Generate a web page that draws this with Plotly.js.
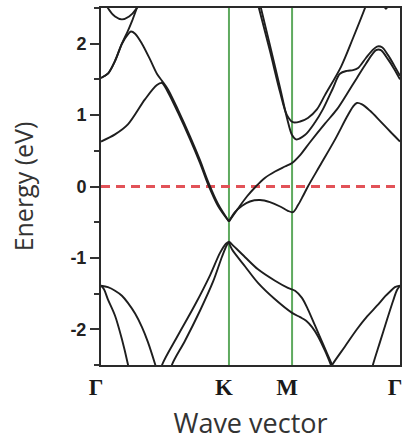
<!DOCTYPE html>
<html>
<head>
<meta charset="utf-8">
<script src="https://cdn.plot.ly/plotly-3.0.1.min.js"></script>
<style>html,body{margin:0;padding:0;background:#fff;}#chart{width:405px;height:445px;}</style>
</head>
<body>
<div id="chart"></div>
<script>
// High-symmetry points along the k-path (fraction of path length)
const kTicks = [0, 0.428, 0.639, 1];
const kLabels = ['Γ', 'K', 'M', 'Γ'];
const yTickVals = [-2, -1, 0, 1, 2];
const yTickText = ['-2', '-1', '0', '1', '2'];
const fermiLevel = 0;
const energyRange = [-2.5, 2.5];

// Conduction bands
const bandA_k = [0, 0.047, 0.090, 0.147, 0.187, 0.204, 0.224, 0.258, 0.298, 0.331, 0.358, 0.391, 0.428];
const bandA_E = [0.63, 0.73, 0.87, 1.22, 1.42, 1.45, 1.32, 1.03, 0.66, 0.33, 0.03, -0.27, -0.49];

const bandB1_k = [0, 0.023, 0.047, 0.070, 0.090, 0.100, 0.114, 0.137, 0.164, 0.187, 0.204, 0.224, 0.258, 0.298, 0.331, 0.358, 0.391, 0.428];
const bandB1_E = [1.52, 1.58, 1.76, 2.00, 2.13, 2.17, 2.14, 2.00, 1.78, 1.58, 1.48, 1.36, 1.07, 0.70, 0.37, 0.07, -0.24, -0.49];

const bandB2_k = [0, 0.023, 0.047, 0.070, 0.090, 0.104, 0.120, 0.134];
const bandB2_E = [1.52, 1.58, 1.76, 2.00, 2.18, 2.32, 2.50, 2.65];

const bandC_k = [0.007, 0.023, 0.047, 0.070, 0.094, 0.120, 0.134];
const bandC_E = [2.65, 2.50, 2.38, 2.34, 2.38, 2.50, 2.62];

const bandD1_k = [0.525, 0.565, 0.599, 0.622, 0.642, 0.666, 0.692, 0.722, 0.749, 0.803, 0.843, 0.883, 0.896];
const bandD1_E = [2.55, 1.90, 1.32, 1.00, 0.90, 0.91, 0.96, 1.08, 1.28, 1.68, 2.08, 2.50, 2.65];

const bandD2_k = [0.532, 0.565, 0.599, 0.622, 0.639, 0.652, 0.682, 0.716, 0.742, 0.776, 0.799, 0.823, 0.843, 0.860, 0.886, 0.906, 0.923, 0.940, 0.960, 0.980, 1.0];
const bandD2_E = [2.55, 1.98, 1.38, 0.96, 0.72, 0.66, 0.72, 0.90, 1.08, 1.38, 1.58, 1.62, 1.63, 1.66, 1.80, 1.90, 1.96, 1.95, 1.84, 1.70, 1.55];

const bandL4_k = [0.428, 0.458, 0.488, 0.518, 0.548, 0.582, 0.615, 0.639, 0.666, 0.699, 0.749, 0.789, 0.823, 0.856, 0.886, 0.920, 0.936, 0.960, 0.980, 1.0];
const bandL4_E = [-0.49, -0.31, -0.14, 0, 0.12, 0.21, 0.28, 0.33, 0.44, 0.62, 0.88, 1.08, 1.30, 1.52, 1.72, 1.91, 1.91, 1.78, 1.65, 1.50];

const bandL5_k = [0.428, 0.448, 0.472, 0.498, 0.532, 0.565, 0.599, 0.625, 0.642, 0.659, 0.676, 0.692, 0.732, 0.783, 0.823, 0.843, 0.856, 0.873, 0.900, 0.933, 0.967, 1.0];
const bandL5_E = [-0.49, -0.36, -0.27, -0.21, -0.19, -0.22, -0.28, -0.34, -0.36, -0.26, -0.13, 0, 0.29, 0.66, 0.98, 1.12, 1.17, 1.15, 1.06, 0.92, 0.77, 0.63];

const bandTop_k = [0.940, 0.953, 0.967];
const bandTop_E = [2.60, 2.49, 2.60];

// Valence bands
const bandV1_k = [0, 0.023, 0.047, 0.070, 0.090, 0.114, 0.137, 0.157, 0.181, 0.197];
const bandV1_E = [-1.39, -1.41, -1.46, -1.53, -1.63, -1.78, -1.97, -2.18, -2.49, -2.72];

const bandV2_k = [0, 0.010, 0.023, 0.047, 0.070, 0.090, 0.100];
const bandV2_E = [-1.39, -1.44, -1.58, -1.81, -2.14, -2.49, -2.70];

const bandR1_k = [0.191, 0.204, 0.258, 0.314, 0.365, 0.398, 0.418, 0.428];
const bandR1_E = [-2.72, -2.50, -2.08, -1.66, -1.24, -0.93, -0.80, -0.77];

const bandR2_k = [0.224, 0.237, 0.281, 0.331, 0.375, 0.405, 0.421, 0.428];
const bandR2_E = [-2.72, -2.50, -2.16, -1.74, -1.33, -0.98, -0.82, -0.78];

const bandVU_k = [0.428, 0.438, 0.482, 0.525, 0.582, 0.625, 0.649, 0.672, 0.692, 0.716, 0.742, 0.773, 0.786];
const bandVU_E = [-0.77, -0.81, -0.99, -1.16, -1.32, -1.42, -1.46, -1.56, -1.72, -1.95, -2.20, -2.50, -2.62];

const bandVL_k = [0.428, 0.438, 0.482, 0.525, 0.582, 0.639, 0.666, 0.686, 0.706, 0.726, 0.749, 0.769, 0.783];
const bandVL_E = [-0.78, -0.88, -1.12, -1.35, -1.58, -1.77, -1.83, -1.88, -1.97, -2.10, -2.30, -2.50, -2.65];

const bandVR_k = [0.759, 0.773, 0.816, 0.856, 0.890, 0.923, 0.950, 0.967, 0.983, 1.0];
const bandVR_E = [-2.62, -2.50, -2.24, -2.00, -1.82, -1.67, -1.54, -1.47, -1.41, -1.39];

const bandVS_k = [0.900, 0.910, 0.933, 0.957, 0.977, 0.990, 1.0];
const bandVS_E = [-2.65, -2.49, -2.18, -1.86, -1.60, -1.45, -1.39];

const bands = [
  [bandA_k, bandA_E], [bandB1_k, bandB1_E], [bandB2_k, bandB2_E], [bandC_k, bandC_E],
  [bandD1_k, bandD1_E], [bandD2_k, bandD2_E], [bandL4_k, bandL4_E], [bandL5_k, bandL5_E],
  [bandTop_k, bandTop_E],
  [bandV1_k, bandV1_E], [bandV2_k, bandV2_E], [bandR1_k, bandR1_E], [bandR2_k, bandR2_E],
  [bandVU_k, bandVU_E], [bandVL_k, bandVL_E], [bandVR_k, bandVR_E], [bandVS_k, bandVS_E]
];

const traces = [];
// Vertical green lines at K and M
[kTicks[1], kTicks[2]].forEach(k => {
  traces.push({x: [k, k], y: energyRange, mode: 'lines', hoverinfo: 'skip',
    line: {color: 'rgb(95,170,95)', width: 2}});
});
// Fermi level
traces.push({x: [kTicks[0], kTicks[3]], y: [fermiLevel, fermiLevel], mode: 'lines',
  line: {color: 'rgb(226,82,88)', width: 3, dash: '9px,6px'}});
bands.forEach(b => {
  traces.push({x: b[0], y: b[1], mode: 'lines',
    line: {color: '#1e1e1e', width: 1.9, shape: 'spline', smoothing: 0.9}});
});

const layout = {
  width: 405, height: 445,
  margin: {l: 101, r: 5, t: 8, b: 80},
  paper_bgcolor: '#fff', plot_bgcolor: '#fff',
  showlegend: false,
  xaxis: {
    range: [0, 1], tickvals: kTicks, ticktext: kLabels, ticks: '',
    showline: true, mirror: true, linecolor: '#2a2a2a', linewidth: 2,
    showgrid: false, zeroline: false, ticklabelshift: -5,
    tickfont: {family: 'Liberation Serif, Times New Roman, serif', size: 23, color: '#1a1a1a', weight: 'bold'},
    title: {text: 'Wave vector', standoff: 16, font: {family: 'Open Sans, Arial, sans-serif', size: 27, color: '#333'}}
  },
  yaxis: {
    range: energyRange, tickvals: yTickVals, ticktext: yTickText,
    ticks: 'outside', ticklen: 9, tickwidth: 2, tickcolor: '#333',
    minor: {dtick: 0.5, tick0: 0, ticks: 'outside', ticklen: 5, tickwidth: 2, tickcolor: '#333', showgrid: false},
    showline: true, mirror: true, linecolor: '#2a2a2a', linewidth: 2,
    showgrid: false, zeroline: false,
    tickfont: {family: 'Liberation Sans, Arial, sans-serif', size: 18, color: '#222', weight: 'bold'},
    title: {text: 'Energy (eV)', standoff: 30, font: {family: 'Open Sans, Arial, sans-serif', size: 25, color: '#333'}}
  }
};

Plotly.newPlot('chart', traces, layout, {staticPlot: true, displayModeBar: false});
</script>
</body>
</html>
